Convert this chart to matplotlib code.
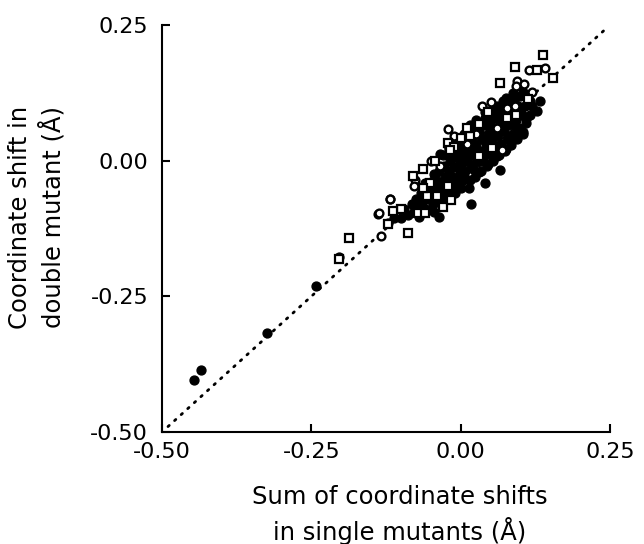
import matplotlib
matplotlib.use('Agg')
import matplotlib.pyplot as plt

# filled circles (x = sum of single-mutant shifts, y = double-mutant shift)
filled_x = [-0.446, -0.434, -0.325, -0.242, -0.204, 0.017, 0.041, 0.066, -0.036, 0.127,
            0.133, 0.087, 0.080, 0.105, 0.094, 0.110, 0.013, -0.121, -0.112,
            -0.100, -0.095, -0.088, -0.082, -0.078, -0.075, -0.072,
            -0.066, -0.064, -0.060, -0.058, -0.055,
            -0.050, -0.048, -0.046, -0.043, -0.042,
            -0.038, -0.036, -0.034, -0.032, -0.030,
            -0.028, -0.026, -0.024, -0.022, -0.020, -0.018, -0.016,
            -0.014, -0.012, -0.010, -0.008, -0.006, -0.004, -0.002,
            0.000, 0.002, 0.004, 0.006, 0.008, 0.010, 0.012, 0.014, 0.015,
            0.018, 0.020, 0.022, 0.024, 0.026, 0.028, 0.030, 0.032,
            0.034, 0.036, 0.038, 0.040, 0.042, 0.044, 0.046,
            0.048, 0.050, 0.052, 0.054, 0.056, 0.058, 0.060,
            0.062, 0.064, 0.066, 0.068, 0.070, 0.072, 0.074,
            0.076, 0.078, 0.080, 0.082, 0.084, 0.086, 0.088,
            0.090, 0.092, 0.094, 0.096, 0.098, 0.100, 0.102,
            0.105, 0.108, 0.110, 0.113, 0.116, 0.120,
            -0.030, -0.020, -0.010, 0.005, 0.015, 0.025, 0.045, 0.060, 0.075,
            -0.070, -0.055, -0.041, -0.025, -0.011, 0.005, 0.020, 0.034, 0.050,
            0.065, 0.079, 0.095, 0.110,
            -0.078, -0.063, -0.048, -0.033, -0.019, -0.004, 0.011, 0.026, 0.041,
            0.056, 0.071, 0.086, 0.101, 0.116,
            -0.060, -0.045, -0.030, -0.015, 0.000, 0.015, 0.030, 0.045, 0.060,
            0.075, 0.090, 0.105,
            -0.020, -0.005, 0.010, 0.025, 0.040, 0.055, 0.070,
            -0.020, 0.000, 0.030, 0.060, 0.090,
            -0.045, -0.010, 0.015, 0.045, 0.075, 0.105,
            -0.035, -0.010, 0.015, 0.040]
filled_y = [-0.404, -0.385, -0.317, -0.231, -0.177, -0.080, -0.041, -0.017, -0.103, 0.092,
            0.109, 0.125, 0.109, 0.127, 0.045, 0.080, 0.057, -0.115, -0.105,
            -0.105, -0.090, -0.100, -0.080, -0.095, -0.070, -0.085,
            -0.060, -0.078, -0.090, -0.050, -0.070,
            -0.040, -0.060, -0.080, -0.030, -0.050,
            -0.065, -0.020, -0.042, -0.075, -0.055,
            -0.010, -0.030, -0.048, -0.062, -0.020, 0.000, -0.040,
            -0.055, -0.012, 0.015, -0.030, -0.045, 0.005, -0.018,
            0.025, -0.005, -0.035, 0.012, -0.020, 0.035, 0.000, -0.050, 0.020,
            -0.010, 0.045, 0.010, -0.030, 0.030, -0.002, 0.055, 0.018,
            -0.020, 0.040, 0.005, 0.065, 0.025, -0.010, 0.050,
            0.012, 0.075, 0.035, 0.000, 0.060, 0.022, 0.085,
            0.045, 0.010, 0.070, 0.030, 0.095, 0.055, 0.018,
            0.080, 0.040, 0.105, 0.065, 0.028, 0.090, 0.050,
            0.115, 0.075, 0.040, 0.100, 0.060, 0.120, 0.085,
            0.050, 0.100, 0.070, 0.115, 0.085, 0.100,
            0.010, 0.025, 0.040, 0.050, 0.060, 0.075, 0.090, 0.100, 0.115,
            -0.104, -0.091, -0.077, -0.061, -0.047, -0.030, -0.016, -0.001, 0.016,
            0.029, 0.045, 0.061, 0.076,
            -0.083, -0.069, -0.052, -0.039, -0.023, -0.010, 0.007, 0.020, 0.036,
            0.050, 0.066, 0.081, 0.095, 0.110,
            -0.041, -0.024, -0.011, 0.006, 0.019, 0.036, 0.049, 0.066, 0.079,
            0.096, 0.109, 0.124,
            0.021, 0.036, 0.049, 0.066, 0.079, 0.096, 0.110,
            -0.071, -0.051, -0.021, 0.009, 0.039,
            -0.095, -0.060, -0.036, -0.006, 0.022, 0.052,
            0.012, 0.042, 0.065, 0.090]

# open circles
circ_x = [0.114, 0.141, 0.095, 0.106, 0.093, 0.120, 0.051, 0.035, 0.044, 0.077,
          0.091, -0.022, -0.012, 0.069, -0.049, -0.076, -0.079, -0.118, -0.138, -0.134,
          -0.119, -0.137, 0.010, 0.025, -0.035, 0.060]
circ_y = [0.167, 0.170, 0.146, 0.141, 0.137, 0.126, 0.108, 0.100, 0.091, 0.097,
          0.100, 0.058, 0.045, 0.020, 0.000, -0.035, -0.047, -0.070, -0.099, -0.139,
          -0.070, -0.096, 0.030, 0.050, -0.010, 0.060]

# open squares
sq_x = [0.138, 0.091, 0.127, 0.154, 0.065, 0.113, 0.031, -0.022, -0.043, -0.063,
        -0.080, -0.089, -0.100, -0.113, -0.071, -0.060, -0.029, -0.017, -0.021, -0.040,
        -0.057, -0.051, -0.063, 0.046, 0.077, 0.000, -0.012, 0.052, 0.030, 0.016,
        -0.018, 0.093, -0.187, -0.203, -0.121, 0.010]
sq_y = [0.195, 0.172, 0.167, 0.152, 0.143, 0.113, 0.068, 0.033, 0.000, -0.015,
        -0.028, -0.134, -0.089, -0.093, -0.096, -0.096, -0.086, -0.072, -0.047, -0.066,
        -0.066, -0.041, -0.050, 0.089, 0.079, 0.042, 0.026, 0.023, 0.008, 0.045,
        0.020, 0.085, -0.143, -0.182, -0.116, 0.060]

diag = [-0.49, 0.24]
ticks = [-0.50, -0.25, 0.00, 0.25]
tick_labels = ['-0.50', '-0.25', '0.00', '0.25']

plt.rcParams['font.family'] = ['DejaVu Sans']

fig = plt.figure(figsize=(6.44, 5.44), dpi=100)
ax = fig.add_axes([0.2516, 0.2059, 0.6957, 0.7482])

ax.plot(diag, diag, color='black', linestyle=(0, (0.6, 2.6)), linewidth=2.0,
        dash_capstyle='round', zorder=1)
ax.plot(filled_x, filled_y, 'o', color='black', markersize=6.4, zorder=2)
ax.plot(circ_x, circ_y, 'o', markerfacecolor='white', markeredgecolor='black',
        markeredgewidth=1.7, markersize=5.6, linestyle='none', zorder=3)
ax.plot(sq_x, sq_y, 's', markerfacecolor='white', markeredgecolor='black',
        markeredgewidth=1.6, markersize=5.2, linestyle='none', zorder=3)

ax.set_xlim(-0.5, 0.25)
ax.set_ylim(-0.5, 0.25)
ax.set_xticks(ticks)
ax.set_xticklabels(tick_labels)
ax.set_yticks(ticks)
ax.set_yticklabels(tick_labels)
ax.spines['top'].set_visible(False)
ax.spines['right'].set_visible(False)
for s in ['left', 'bottom']:
    ax.spines[s].set_linewidth(1.5)
ax.tick_params(direction='in', length=6, width=1.5, labelsize=16)
ax.tick_params(axis='x', pad=7)
ax.tick_params(axis='y', pad=10)

ax.set_xlabel('Sum of coordinate shifts\nin single mutants (Å)', fontsize=17.5,
              linespacing=1.35, va='top')
ax.xaxis.set_label_coords(0.531, -0.13)
ax.set_ylabel('Coordinate shift in\ndouble mutant (Å)', fontsize=17.5,
              linespacing=1.35)
ax.yaxis.set_label_coords(-0.215, 0.528)

fig.savefig('out.png', dpi=100)
